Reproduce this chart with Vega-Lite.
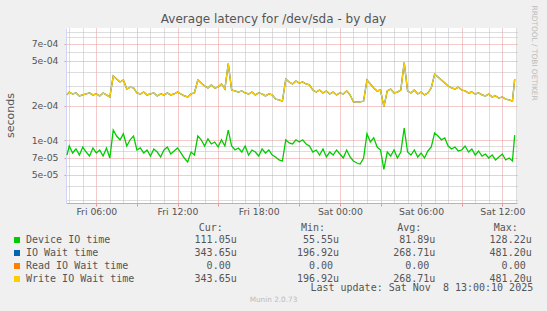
{
"$schema": "https://vega.github.io/schema/vega-lite/v6.json",
"width": 451, "height": 175,
"autosize": "none",
"padding": {"left": 66, "top": 28, "right": 30, "bottom": 108},
"background": "#F0F0F0",
"title": {"text": "Average latency for /dev/sda - by day", "font": "DejaVu Sans", "fontSize": 12, "fontWeight": "normal", "color": "#555555", "anchor": "middle", "dx": -18, "dy": 27, "offset": 6},
"config": {"view": {"fill": "#FFFFFF", "stroke": null}},
"data": {"values": [
{"t":"2025-11-07T03:50","d":7.43e-5,"w":2.50e-4},
{"t":"2025-11-07T04:00","d":8.91e-5,"w":2.65e-4},
{"t":"2025-11-07T04:15","d":7.74e-5,"w":2.55e-4},
{"t":"2025-11-07T04:30","d":8.39e-5,"w":2.60e-4},
{"t":"2025-11-07T04:45","d":7.43e-5,"w":2.45e-4},
{"t":"2025-11-07T05:00","d":8.73e-5,"w":2.50e-4},
{"t":"2025-11-07T05:15","d":7.89e-5,"w":2.55e-4},
{"t":"2025-11-07T05:30","d":7.28e-5,"w":2.60e-4},
{"t":"2025-11-07T05:45","d":8.56e-5,"w":2.50e-4},
{"t":"2025-11-07T06:00","d":7.74e-5,"w":2.55e-4},
{"t":"2025-11-07T06:15","d":8.22e-5,"w":2.45e-4},
{"t":"2025-11-07T06:30","d":7.28e-5,"w":2.60e-4},
{"t":"2025-11-07T06:45","d":8.56e-5,"w":2.50e-4},
{"t":"2025-11-07T07:00","d":6.99e-5,"w":2.40e-4},
{"t":"2025-11-07T07:15","d":1.23e-4,"w":3.66e-4},
{"t":"2025-11-07T07:30","d":1.09e-4,"w":3.45e-4},
{"t":"2025-11-07T07:45","d":1.01e-4,"w":3.25e-4},
{"t":"2025-11-07T08:00","d":1.14e-4,"w":3.38e-4},
{"t":"2025-11-07T08:15","d":8.91e-5,"w":2.82e-4},
{"t":"2025-11-07T08:30","d":1.01e-4,"w":2.93e-4},
{"t":"2025-11-07T08:45","d":1.09e-4,"w":2.88e-4},
{"t":"2025-11-07T09:00","d":8.22e-5,"w":2.60e-4},
{"t":"2025-11-07T09:15","d":8.56e-5,"w":2.55e-4},
{"t":"2025-11-07T09:30","d":7.74e-5,"w":2.65e-4},
{"t":"2025-11-07T09:45","d":8.22e-5,"w":2.50e-4},
{"t":"2025-11-07T10:00","d":7.28e-5,"w":2.55e-4},
{"t":"2025-11-07T10:15","d":8.39e-5,"w":2.60e-4},
{"t":"2025-11-07T10:30","d":7.89e-5,"w":2.45e-4},
{"t":"2025-11-07T10:45","d":7.14e-5,"w":2.55e-4},
{"t":"2025-11-07T11:00","d":8.22e-5,"w":2.50e-4},
{"t":"2025-11-07T11:15","d":8.73e-5,"w":2.60e-4},
{"t":"2025-11-07T11:30","d":7.58e-5,"w":2.50e-4},
{"t":"2025-11-07T11:45","d":8.06e-5,"w":2.55e-4},
{"t":"2025-11-07T12:00","d":8.56e-5,"w":2.65e-4},
{"t":"2025-11-07T12:15","d":7.74e-5,"w":2.55e-4},
{"t":"2025-11-07T12:30","d":6.99e-5,"w":2.45e-4},
{"t":"2025-11-07T12:45","d":6.45e-5,"w":2.40e-4},
{"t":"2025-11-07T13:00","d":7.89e-5,"w":2.55e-4},
{"t":"2025-11-07T13:15","d":7.43e-5,"w":2.60e-4},
{"t":"2025-11-07T13:30","d":1.09e-4,"w":3.38e-4},
{"t":"2025-11-07T13:45","d":1.01e-4,"w":3.18e-4},
{"t":"2025-11-07T14:00","d":8.91e-5,"w":2.99e-4},
{"t":"2025-11-07T14:15","d":1.03e-4,"w":2.88e-4},
{"t":"2025-11-07T14:30","d":9.28e-5,"w":3.06e-4},
{"t":"2025-11-07T14:45","d":9.66e-5,"w":2.88e-4},
{"t":"2025-11-07T15:00","d":8.73e-5,"w":2.93e-4},
{"t":"2025-11-07T15:15","d":1.01e-4,"w":3.12e-4},
{"t":"2025-11-07T15:30","d":8.91e-5,"w":2.82e-4},
{"t":"2025-11-07T15:45","d":1.23e-4,"w":4.70e-4},
{"t":"2025-11-07T16:00","d":8.91e-5,"w":2.76e-4},
{"t":"2025-11-07T16:15","d":8.22e-5,"w":2.71e-4},
{"t":"2025-11-07T16:30","d":8.56e-5,"w":2.65e-4},
{"t":"2025-11-07T16:45","d":7.89e-5,"w":2.71e-4},
{"t":"2025-11-07T17:00","d":8.91e-5,"w":2.60e-4},
{"t":"2025-11-07T17:15","d":7.43e-5,"w":2.55e-4},
{"t":"2025-11-07T17:30","d":8.22e-5,"w":2.65e-4},
{"t":"2025-11-07T17:45","d":7.89e-5,"w":2.50e-4},
{"t":"2025-11-07T18:00","d":7.28e-5,"w":2.60e-4},
{"t":"2025-11-07T18:15","d":8.39e-5,"w":2.55e-4},
{"t":"2025-11-07T18:30","d":7.74e-5,"w":2.45e-4},
{"t":"2025-11-07T18:45","d":8.22e-5,"w":2.55e-4},
{"t":"2025-11-07T19:00","d":7.43e-5,"w":2.50e-4},
{"t":"2025-11-07T19:15","d":7.14e-5,"w":2.30e-4},
{"t":"2025-11-07T19:30","d":6.72e-5,"w":2.26e-4},
{"t":"2025-11-07T19:45","d":6.58e-5,"w":2.21e-4},
{"t":"2025-11-07T20:00","d":1.01e-4,"w":3.45e-4},
{"t":"2025-11-07T20:15","d":9.47e-5,"w":3.25e-4},
{"t":"2025-11-07T20:30","d":9.28e-5,"w":3.12e-4},
{"t":"2025-11-07T20:45","d":1.01e-4,"w":3.31e-4},
{"t":"2025-11-07T21:00","d":9.66e-5,"w":3.18e-4},
{"t":"2025-11-07T21:15","d":1.01e-4,"w":3.25e-4},
{"t":"2025-11-07T21:30","d":9.28e-5,"w":3.12e-4},
{"t":"2025-11-07T21:45","d":8.91e-5,"w":3.06e-4},
{"t":"2025-11-07T22:00","d":7.89e-5,"w":2.76e-4},
{"t":"2025-11-07T22:15","d":8.22e-5,"w":2.65e-4},
{"t":"2025-11-07T22:30","d":7.43e-5,"w":2.76e-4},
{"t":"2025-11-07T22:45","d":8.39e-5,"w":2.60e-4},
{"t":"2025-11-07T23:00","d":7.14e-5,"w":2.71e-4},
{"t":"2025-11-07T23:15","d":7.89e-5,"w":2.55e-4},
{"t":"2025-11-07T23:30","d":7.43e-5,"w":2.65e-4},
{"t":"2025-11-07T23:45","d":8.22e-5,"w":2.50e-4},
{"t":"2025-11-08T00:00","d":7.58e-5,"w":2.60e-4},
{"t":"2025-11-08T00:15","d":6.99e-5,"w":2.55e-4},
{"t":"2025-11-08T00:30","d":8.22e-5,"w":2.71e-4},
{"t":"2025-11-08T00:45","d":7.14e-5,"w":2.50e-4},
{"t":"2025-11-08T01:00","d":6.58e-5,"w":2.17e-4},
{"t":"2025-11-08T01:15","d":6.32e-5,"w":2.17e-4},
{"t":"2025-11-08T01:30","d":6.19e-5,"w":2.17e-4},
{"t":"2025-11-08T01:45","d":6.99e-5,"w":2.21e-4},
{"t":"2025-11-08T02:00","d":1.14e-4,"w":3.38e-4},
{"t":"2025-11-08T02:15","d":9.66e-5,"w":3.12e-4},
{"t":"2025-11-08T02:30","d":1.05e-4,"w":2.88e-4},
{"t":"2025-11-08T02:45","d":8.73e-5,"w":2.71e-4},
{"t":"2025-11-08T03:00","d":8.22e-5,"w":2.76e-4},
{"t":"2025-11-08T03:15","d":5.56e-5,"w":1.97e-4},
{"t":"2025-11-08T03:30","d":7.89e-5,"w":2.71e-4},
{"t":"2025-11-08T03:45","d":7.28e-5,"w":2.82e-4},
{"t":"2025-11-08T04:00","d":8.22e-5,"w":2.60e-4},
{"t":"2025-11-08T04:15","d":6.99e-5,"w":2.65e-4},
{"t":"2025-11-08T04:30","d":7.89e-5,"w":2.76e-4},
{"t":"2025-11-08T04:45","d":1.282e-4,"w":4.81e-4},
{"t":"2025-11-08T05:00","d":7.89e-5,"w":2.71e-4},
{"t":"2025-11-08T05:15","d":7.43e-5,"w":2.60e-4},
{"t":"2025-11-08T05:30","d":8.22e-5,"w":2.76e-4},
{"t":"2025-11-08T05:45","d":7.14e-5,"w":2.55e-4},
{"t":"2025-11-08T06:00","d":7.74e-5,"w":2.65e-4},
{"t":"2025-11-08T06:15","d":6.99e-5,"w":2.50e-4},
{"t":"2025-11-08T06:30","d":8.06e-5,"w":2.60e-4},
{"t":"2025-11-08T06:45","d":8.73e-5,"w":2.88e-4},
{"t":"2025-11-08T07:00","d":1.16e-4,"w":3.81e-4},
{"t":"2025-11-08T07:15","d":1.09e-4,"w":3.59e-4},
{"t":"2025-11-08T07:30","d":1.01e-4,"w":3.38e-4},
{"t":"2025-11-08T07:45","d":1.05e-4,"w":3.18e-4},
{"t":"2025-11-08T08:00","d":8.91e-5,"w":2.99e-4},
{"t":"2025-11-08T08:15","d":8.39e-5,"w":2.88e-4},
{"t":"2025-11-08T08:30","d":8.73e-5,"w":2.82e-4},
{"t":"2025-11-08T08:45","d":8.06e-5,"w":2.93e-4},
{"t":"2025-11-08T09:00","d":8.22e-5,"w":2.76e-4},
{"t":"2025-11-08T09:15","d":8.91e-5,"w":2.71e-4},
{"t":"2025-11-08T09:30","d":7.89e-5,"w":2.60e-4},
{"t":"2025-11-08T09:45","d":8.39e-5,"w":2.65e-4},
{"t":"2025-11-08T10:00","d":7.43e-5,"w":2.55e-4},
{"t":"2025-11-08T10:15","d":8.06e-5,"w":2.60e-4},
{"t":"2025-11-08T10:30","d":7.28e-5,"w":2.50e-4},
{"t":"2025-11-08T10:45","d":7.58e-5,"w":2.45e-4},
{"t":"2025-11-08T11:00","d":6.99e-5,"w":2.55e-4},
{"t":"2025-11-08T11:15","d":7.43e-5,"w":2.40e-4},
{"t":"2025-11-08T11:30","d":6.72e-5,"w":2.45e-4},
{"t":"2025-11-08T11:45","d":7.14e-5,"w":2.35e-4},
{"t":"2025-11-08T12:00","d":7.58e-5,"w":2.40e-4},
{"t":"2025-11-08T12:15","d":6.72e-5,"w":2.30e-4},
{"t":"2025-11-08T12:30","d":6.99e-5,"w":2.26e-4},
{"t":"2025-11-08T12:45","d":6.58e-5,"w":2.21e-4},
{"t":"2025-11-08T12:55","d":1.1105e-4,"w":3.4365e-4}
]},
"layer": [
{
"mark": {"type": "line", "strokeWidth": 1.3},
"encoding": {
"x": {"field": "t", "type": "temporal",
 "scale": {"domain": [{"year": 2025, "month": 11, "date": 7, "hours": 3, "minutes": 45, "seconds": 36}, {"year": 2025, "month": 11, "date": 8, "hours": 13, "minutes": 5, "seconds": 10}]},
 "axis": {"orient": "bottom",
  "values": [{"year": 2025, "month": 11, "date": 7, "hours": 6}, {"year": 2025, "month": 11, "date": 7, "hours": 9}, {"year": 2025, "month": 11, "date": 7, "hours": 12}, {"year": 2025, "month": 11, "date": 7, "hours": 15}, {"year": 2025, "month": 11, "date": 7, "hours": 18}, {"year": 2025, "month": 11, "date": 7, "hours": 21}, {"year": 2025, "month": 11, "date": 8, "hours": 0}, {"year": 2025, "month": 11, "date": 8, "hours": 3}, {"year": 2025, "month": 11, "date": 8, "hours": 6}, {"year": 2025, "month": 11, "date": 8, "hours": 9}, {"year": 2025, "month": 11, "date": 8, "hours": 12}],
  "labelExpr": "timeFormat(datum.value, '%H') == '03' || timeFormat(datum.value, '%H') == '09' || timeFormat(datum.value, '%H') == '15' || timeFormat(datum.value, '%H') == '21' ? '' : timeFormat(datum.value, '%a %H:%M')",
  "labelOverlap": false, "labelFlush": false, "labelFont": "DejaVu Sans", "labelFontSize": 9.3, "labelColor": "#555555", "labelPadding": 1,
  "tickSize": 3, "tickColor": "#EB9595",
  "grid": true, "gridColor": "#EB9595", "gridDash": [1, 1], "gridWidth": 1,
  "domainColor": "#E8A284", "domainWidth": 1,
  "title": "Last update: Sat Nov\u00a0\u00a08 13:00:10 2025", "titleFont": "DejaVu Sans Mono", "titleFontSize": 10, "titleFontWeight": "normal", "titleColor": "#555555",
  "titleX": 466.7, "titleY": 84.7, "titleAlign": "right", "titleBaseline": "middle"}},
"y": {"field": "d", "type": "quantitative",
 "scale": {"type": "log", "domain": [2.818e-5, 9.663e-4], "nice": false},
 "axis": {"orient": "left", "values": [5e-5, 7e-5, 1e-4, 2e-4, 5e-4, 7e-4],
  "labelExpr": "replace(format(datum.value, '.0e'), 'e-', 'e-0')",
  "labelOverlap": false, "labelFont": "DejaVu Sans", "labelFontSize": 9.3, "labelColor": "#555555", "labelPadding": 6,
  "tickSize": 2, "tickColor": "#EB9595",
  "grid": true, "gridColor": "#EB9595", "gridDash": [1, 1], "gridWidth": 1,
  "domainColor": "#CFD6F8", "domainWidth": 1,
  "title": "seconds", "titleFont": "DejaVu Sans", "titleFontSize": 11, "titleFontWeight": "normal", "titleColor": "#555555",
  "titleX": -55.3, "titleY": 87, "titleAngle": -90, "titleAlign": "center", "titleBaseline": "middle"}},
"color": {"datum": "Device IO time", "type": "nominal",
 "scale": {"domain": ["Device IO time", "IO Wait time", "Read IO Wait time", "Write IO Wait time"], "range": ["#00CC00", "#0066B3", "#FF8000", "#FFCC00"]},
 "legend": {"orient": "none", "legendX": -54, "legendY": 195, "direction": "vertical", "padding": 0,
  "title": "\u200b\u00a0\u00a0\u00a0\u00a0\u00a0\u00a0\u00a0\u00a0\u00a0\u00a0\u00a0\u00a0\u00a0\u00a0\u00a0\u00a0\u00a0\u00a0\u00a0\u00a0\u00a0\u00a0\u00a0\u00a0\u00a0\u00a0\u00a0\u00a0\u00a0\u00a0\u00a0Cur:\u00a0\u00a0\u00a0\u00a0\u00a0\u00a0\u00a0\u00a0\u00a0\u00a0\u00a0\u00a0\u00a0Min:\u00a0\u00a0\u00a0\u00a0\u00a0\u00a0\u00a0\u00a0\u00a0\u00a0\u00a0\u00a0Avg:\u00a0\u00a0\u00a0\u00a0\u00a0\u00a0\u00a0\u00a0\u00a0\u00a0\u00a0\u00a0Max:",
  "titleFont": "DejaVu Sans Mono", "titleFontSize": 10, "titleFontWeight": "normal", "titleColor": "#555555", "titlePadding": 2, "titleLimit": 600,
  "labelFont": "DejaVu Sans Mono", "labelFontSize": 10, "labelColor": "#555555", "labelOffset": 4, "labelLimit": 600,
  "symbolType": "square", "symbolSize": 9, "symbolStrokeWidth": 3, "rowPadding": -5,
  "labelExpr": "datum.label == 'Device IO time' ? 'Device IO time\u00a0\u00a0\u00a0\u00a0\u00a0\u00a0\u00a0\u00a0\u00a0\u00a0\u00a0\u00a0\u00a0\u00a0111.05u\u00a0\u00a0\u00a0\u00a0\u00a0\u00a0\u00a0\u00a0\u00a0\u00a0\u00a055.55u\u00a0\u00a0\u00a0\u00a0\u00a0\u00a0\u00a0\u00a0\u00a0\u00a081.89u\u00a0\u00a0\u00a0\u00a0\u00a0\u00a0\u00a0\u00a0\u00a0128.22u' : datum.label == 'IO Wait time' ? 'IO Wait time\u00a0\u00a0\u00a0\u00a0\u00a0\u00a0\u00a0\u00a0\u00a0\u00a0\u00a0\u00a0\u00a0\u00a0\u00a0\u00a0343.65u\u00a0\u00a0\u00a0\u00a0\u00a0\u00a0\u00a0\u00a0\u00a0\u00a0196.92u\u00a0\u00a0\u00a0\u00a0\u00a0\u00a0\u00a0\u00a0\u00a0268.71u\u00a0\u00a0\u00a0\u00a0\u00a0\u00a0\u00a0\u00a0\u00a0481.20u' : datum.label == 'Read IO Wait time' ? 'Read IO Wait time\u00a0\u00a0\u00a0\u00a0\u00a0\u00a0\u00a0\u00a0\u00a0\u00a0\u00a0\u00a0\u00a00.00\u00a0\u00a0\u00a0\u00a0\u00a0\u00a0\u00a0\u00a0\u00a0\u00a0\u00a0\u00a0\u00a00.00\u00a0\u00a0\u00a0\u00a0\u00a0\u00a0\u00a0\u00a0\u00a0\u00a0\u00a0\u00a00.00\u00a0\u00a0\u00a0\u00a0\u00a0\u00a0\u00a0\u00a0\u00a0\u00a0\u00a0\u00a00.00' : 'Write IO Wait time\u00a0\u00a0\u00a0\u00a0\u00a0\u00a0\u00a0\u00a0\u00a0\u00a0343.65u\u00a0\u00a0\u00a0\u00a0\u00a0\u00a0\u00a0\u00a0\u00a0\u00a0196.92u\u00a0\u00a0\u00a0\u00a0\u00a0\u00a0\u00a0\u00a0\u00a0268.71u\u00a0\u00a0\u00a0\u00a0\u00a0\u00a0\u00a0\u00a0\u00a0481.20u'"}}
}
},
{
"mark": {"type": "line", "strokeWidth": 1.3},
"encoding": {
"x": {"field": "t", "type": "temporal",
 "axis": {"orient": "top", "labels": false, "ticks": false, "domain": false,
  "values": [{"year": 2025, "month": 11, "date": 7, "hours": 4}, {"year": 2025, "month": 11, "date": 7, "hours": 5}, {"year": 2025, "month": 11, "date": 7, "hours": 7}, {"year": 2025, "month": 11, "date": 7, "hours": 8}, {"year": 2025, "month": 11, "date": 7, "hours": 10}, {"year": 2025, "month": 11, "date": 7, "hours": 11}, {"year": 2025, "month": 11, "date": 7, "hours": 13}, {"year": 2025, "month": 11, "date": 7, "hours": 14}, {"year": 2025, "month": 11, "date": 7, "hours": 16}, {"year": 2025, "month": 11, "date": 7, "hours": 17}, {"year": 2025, "month": 11, "date": 7, "hours": 19}, {"year": 2025, "month": 11, "date": 7, "hours": 20}, {"year": 2025, "month": 11, "date": 7, "hours": 22}, {"year": 2025, "month": 11, "date": 7, "hours": 23}, {"year": 2025, "month": 11, "date": 8, "hours": 1}, {"year": 2025, "month": 11, "date": 8, "hours": 2}, {"year": 2025, "month": 11, "date": 8, "hours": 4}, {"year": 2025, "month": 11, "date": 8, "hours": 5}, {"year": 2025, "month": 11, "date": 8, "hours": 7}, {"year": 2025, "month": 11, "date": 8, "hours": 8}, {"year": 2025, "month": 11, "date": 8, "hours": 10}, {"year": 2025, "month": 11, "date": 8, "hours": 11}, {"year": 2025, "month": 11, "date": 8, "hours": 13}],
  "grid": true, "gridColor": "#BBBBBB", "gridDash": [1, 1], "gridWidth": 1,
  "title": "Munin 2.0.73", "titleFont": "DejaVu Sans", "titleFontSize": 7.3, "titleFontWeight": "normal", "titleColor": "#BBBBBB",
  "titleX": 207, "titleY": 271.7, "titleAlign": "center", "titleBaseline": "middle"}},
"y": {"field": "w", "type": "quantitative",
 "axis": {"orient": "right", "labels": false, "ticks": false, "domain": false,
  "values": [3e-5, 4e-5, 6e-5, 8e-5, 9e-5, 3e-4, 4e-4, 6e-4, 8e-4, 9e-4],
  "grid": true, "gridColor": "#BBBBBB", "gridDash": [1, 1], "gridWidth": 1,
  "title": "RRDTOOL / TOBI OETIKER", "titleFont": "DejaVu Sans", "titleFontSize": 7.4, "titleFontWeight": "normal", "titleColor": "#BBBBBB",
  "titleAngle": 90, "titleX": 16, "titleY": -23, "titleAlign": "left", "titleBaseline": "middle"}},
"color": {"datum": "IO Wait time", "type": "nominal"}
}
},
{
"mark": {"type": "line", "strokeWidth": 1.3},
"encoding": {
"x": {"field": "t", "type": "temporal", "axis": null},
"y": {"field": "w", "type": "quantitative", "axis": null},
"color": {"datum": "Write IO Wait time", "type": "nominal"}
}
}
],
"resolve": {"axis": {"x": "independent", "y": "independent"}}
}
